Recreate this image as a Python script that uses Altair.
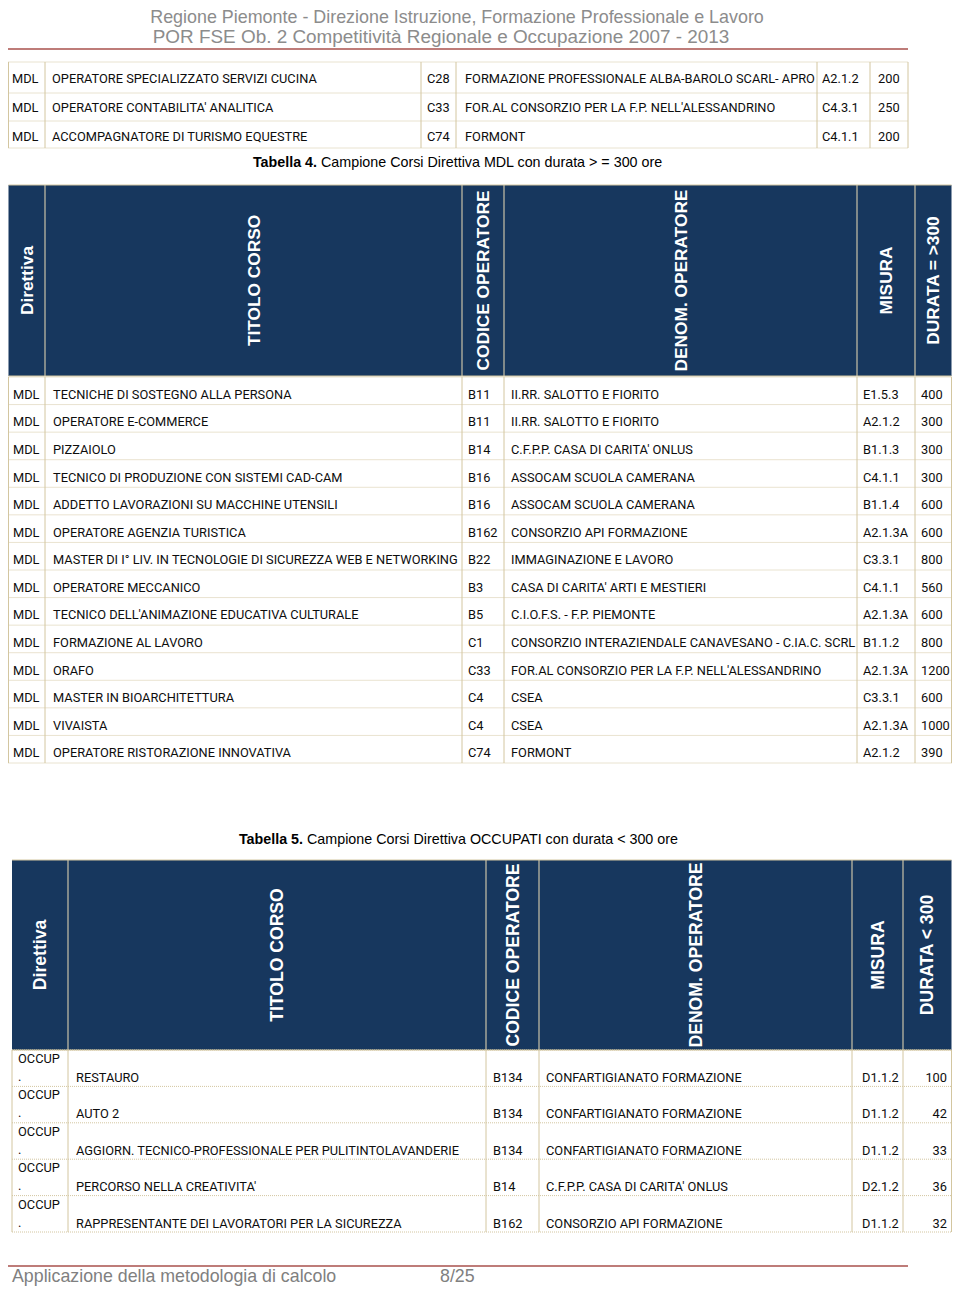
import altair as alt
import pandas as pd

# ---------------- data ----------------
page_header = ["Regione Piemonte - Direzione Istruzione, Formazione Professionale e Lavoro",
               "POR FSE Ob. 2 Competitività Regionale e Occupazione 2007 - 2013"]
footer_left = "Applicazione della metodologia di calcolo"
footer_page = "8/25"

# continuation of previous table
top_dir = ["MDL", "MDL", "MDL"]
top_titolo = ["OPERATORE SPECIALIZZATO SERVIZI CUCINA",
              "OPERATORE CONTABILITA' ANALITICA",
              "ACCOMPAGNATORE DI TURISMO EQUESTRE"]
top_codice = ["C28", "C33", "C74"]
top_denom = ["FORMAZIONE PROFESSIONALE ALBA-BAROLO SCARL- APRO",
             "FOR.AL CONSORZIO PER LA F.P. NELL'ALESSANDRINO",
             "FORMONT"]
top_misura = ["A2.1.2", "C4.3.1", "C4.1.1"]
top_durata = [200, 250, 200]

# Tabella 4
t4_caption = ("Tabella 4.", "Campione Corsi Direttiva MDL con durata > = 300 ore")
t4_headers = ["Direttiva", "TITOLO CORSO", "CODICE OPERATORE", "DENOM. OPERATORE", "MISURA", "DURATA = >300"]
t4_dir = ["MDL"] * 14
t4_titolo = ["TECNICHE DI SOSTEGNO ALLA PERSONA",
             "OPERATORE E-COMMERCE",
             "PIZZAIOLO",
             "TECNICO DI PRODUZIONE CON SISTEMI CAD-CAM",
             "ADDETTO LAVORAZIONI SU MACCHINE UTENSILI",
             "OPERATORE AGENZIA TURISTICA",
             "MASTER DI I° LIV. IN TECNOLOGIE DI SICUREZZA WEB E NETWORKING",
             "OPERATORE MECCANICO",
             "TECNICO DELL'ANIMAZIONE EDUCATIVA CULTURALE",
             "FORMAZIONE AL LAVORO",
             "ORAFO",
             "MASTER IN BIOARCHITETTURA",
             "VIVAISTA",
             "OPERATORE RISTORAZIONE INNOVATIVA"]
t4_codice = ["B11", "B11", "B14", "B16", "B16", "B162", "B22", "B3", "B5", "C1", "C33", "C4", "C4", "C74"]
t4_denom = ["II.RR. SALOTTO E FIORITO",
            "II.RR. SALOTTO E FIORITO",
            "C.F.P.P. CASA DI CARITA' ONLUS",
            "ASSOCAM SCUOLA CAMERANA",
            "ASSOCAM SCUOLA CAMERANA",
            "CONSORZIO API FORMAZIONE",
            "IMMAGINAZIONE E LAVORO",
            "CASA DI CARITA' ARTI E MESTIERI",
            "C.I.O.F.S. - F.P. PIEMONTE",
            "CONSORZIO INTERAZIENDALE CANAVESANO - C.IA.C. SCRL",
            "FOR.AL CONSORZIO PER LA F.P. NELL'ALESSANDRINO",
            "CSEA",
            "CSEA",
            "FORMONT"]
t4_misura = ["E1.5.3", "A2.1.2", "B1.1.3", "C4.1.1", "B1.1.4", "A2.1.3A", "C3.3.1",
             "C4.1.1", "A2.1.3A", "B1.1.2", "A2.1.3A", "C3.3.1", "A2.1.3A", "A2.1.2"]
t4_durata = [400, 300, 300, 300, 600, 600, 800, 560, 600, 800, 1200, 600, 1000, 390]

# Tabella 5
t5_caption = ("Tabella 5.", "Campione Corsi Direttiva OCCUPATI con durata < 300 ore")
t5_headers = ["Direttiva", "TITOLO CORSO", "CODICE OPERATORE", "DENOM. OPERATORE", "MISURA", "DURATA < 300"]
t5_dir = ["OCCUP."] * 5
t5_titolo = ["RESTAURO",
             "AUTO 2",
             "AGGIORN. TECNICO-PROFESSIONALE PER PULITINTOLAVANDERIE",
             "PERCORSO NELLA CREATIVITA'",
             "RAPPRESENTANTE DEI LAVORATORI PER LA SICUREZZA"]
t5_codice = ["B134", "B134", "B134", "B14", "B162"]
t5_denom = ["CONFARTIGIANATO FORMAZIONE",
            "CONFARTIGIANATO FORMAZIONE",
            "CONFARTIGIANATO FORMAZIONE",
            "C.F.P.P. CASA DI CARITA' ONLUS",
            "CONSORZIO API FORMAZIONE"]
t5_misura = ["D1.1.2", "D1.1.2", "D1.1.2", "D2.1.2", "D1.1.2"]
t5_durata = [100, 42, 33, 36, 32]

# ---------------- layout (page pixels) ----------------
W, H = 944, 1279
NAVY = "#17375E"
GRID = "#D3C6A0"
HDIV = "#C9C2A8"
RED = "#A9504C"
INK = "#0d0d0d"
BODY_FONT = "Roboto"
BODY_SIZE = 12.8
HEAD_FONT = "Liberation Sans"

xs = alt.Scale(domain=[8, 8 + W], range=[0, W], nice=False, zero=False)
ys = alt.Scale(domain=[8, 8 + H], reverse=True, nice=False, zero=False)
X = alt.X("x:Q", scale=xs, axis=None)
Y = alt.Y("y:Q", scale=ys, axis=None)

top_cols = [8.5, 45, 421, 456, 817, 870, 908]
top_tx = [12, 52, 427, 465, 822, 878]
top_rows = [62, 93, 121, 148]

t4_cols = [8.5, 45, 462, 504, 857, 915, 951.5]
t4_tx = [13, 53, 468, 511, 863, 921]
t4_head = (185, 376)
t4_body = (377, 763)

t5_cols = [12, 68, 486, 539, 852, 903, 951.5]
t5_tx = [18, 76, 493, 546, 862]
t5_dur_right = 947
t5_head = (860, 1050)
t5_body = (1050, 1232)

layers = []


def text_layer(rows, size, color=INK, weight="normal", font=BODY_FONT,
               align="left", angle=0, baseline="middle"):
    df = pd.DataFrame(rows)
    return alt.Chart(df).mark_text(
        fontSize=size, color=color, fontWeight=weight, font=font,
        align=align, baseline=baseline, angle=angle
    ).encode(x=X, y=Y, text="t:N")


def rule_layer(rows, color, width=1.0, dash=None):
    df = pd.DataFrame(rows)
    kw = dict(color=color, strokeWidth=width)
    if dash:
        kw["strokeDash"] = dash
    return alt.Chart(df).mark_rule(**kw).encode(
        x=X, y=Y, x2="x2:Q", y2="y2:Q")


def rect_layer(rows, fill):
    df = pd.DataFrame(rows)
    return alt.Chart(df).mark_rect(color=fill).encode(x=X, y=Y, x2="x2:Q", y2="y2:Q")


def grid(cols, top, bottom, row_edges):
    h = [{"x": cols[0], "x2": cols[-1], "y": r, "y2": r} for r in row_edges]
    v = [{"x": c, "x2": c, "y": top, "y2": bottom} for c in cols]
    return [rule_layer(h, GRID, 1, [1, 1]), rule_layer(v, GRID, 1)]


def body_cells(columns, tx, top, bottom, dy):
    n = len(columns[0])
    rh = (bottom - top) / n
    out = []
    for col, x in zip(columns, tx):
        for i, v in enumerate(col):
            out.append({"x": x, "y": top + (i + 0.5) * rh + dy, "t": str(v)})
    return out


def header_block(cols, top, bottom, labels, size):
    blocks = [rect_layer([{"x": cols[0], "x2": cols[-1], "y": top, "y2": bottom}], NAVY)]
    blocks.append(rule_layer([{"x": c, "x2": c, "y": top, "y2": bottom} for c in cols[1:-1]], HDIV, 1.2))
    blocks.append(rule_layer([{"x": cols[0], "x2": cols[-1], "y": top, "y2": top},
                              {"x": cols[0], "x2": cols[-1], "y": bottom, "y2": bottom}], GRID, 1))
    yc = (top + bottom) / 2
    lab = [{"x": (cols[i] + cols[i + 1]) / 2 + 1, "y": yc, "t": labels[i]} for i in range(len(labels))]
    blocks.append(text_layer(lab, size, color="white", weight="bold", font=HEAD_FONT,
                             align="center", angle=270))
    return blocks


# page header
layers.append(text_layer([{"x": 457, "y": 18, "t": page_header[0]}],
                         17.9, color="#8C8C8C", font=HEAD_FONT, align="center"))
layers.append(text_layer([{"x": 441, "y": 37, "t": page_header[1]}],
                         18.9, color="#8C8C8C", font=HEAD_FONT, align="center"))
layers.append(rule_layer([{"x": 8, "x2": 908, "y": 49, "y2": 49}], RED, 1.5))

# top continuation table
layers += grid(top_cols, top_rows[0], top_rows[-1], top_rows)
layers.append(text_layer(body_cells([top_dir, top_titolo, top_codice, top_denom, top_misura, top_durata],
                                    top_tx, top_rows[0], top_rows[-1], 3), BODY_SIZE))

# Tabella 4
layers.append(text_layer([{"x": 317, "y": 163, "t": t4_caption[0]}], 14.3, color="#000000",
                         weight="bold", font=HEAD_FONT, align="right"))
layers.append(text_layer([{"x": 321, "y": 163, "t": t4_caption[1]}], 14.3, color="#000000",
                         font=HEAD_FONT))
layers += header_block(t4_cols, t4_head[0], t4_head[1], t4_headers, 17.3)
n4 = len(t4_dir)
rh4 = (t4_body[1] - t4_body[0]) / n4
layers += grid(t4_cols, t4_body[0], t4_body[1], [t4_body[0] + i * rh4 for i in range(n4 + 1)])
layers.append(text_layer(body_cells([t4_dir, t4_titolo, t4_codice, t4_denom, t4_misura, t4_durata],
                                    t4_tx, t4_body[0], t4_body[1], 4), BODY_SIZE))

# Tabella 5
layers.append(text_layer([{"x": 303, "y": 840, "t": t5_caption[0]}], 14.3, color="#000000",
                         weight="bold", font=HEAD_FONT, align="right"))
layers.append(text_layer([{"x": 307, "y": 840, "t": t5_caption[1]}], 14.3, color="#000000",
                         font=HEAD_FONT))
layers += header_block(t5_cols, t5_head[0], t5_head[1], t5_headers, 17.6)
n5 = len(t5_dir)
rh5 = (t5_body[1] - t5_body[0]) / n5
layers += grid(t5_cols, t5_body[0], t5_body[1], [t5_body[0] + i * rh5 for i in range(n5 + 1)])
occ_top = [{"x": t5_tx[0], "y": t5_body[0] + i * rh5 + 9, "t": d.rstrip(".")} for i, d in enumerate(t5_dir)]
occ_dot = [{"x": t5_tx[0], "y": t5_body[0] + i * rh5 + 27, "t": "."} for i, d in enumerate(t5_dir)]
layers.append(text_layer(occ_top + occ_dot, BODY_SIZE))
t5_rows = []
for col, x in zip([t5_titolo, t5_codice, t5_denom, t5_misura], t5_tx[1:]):
    for i, v in enumerate(col):
        t5_rows.append({"x": x, "y": t5_body[0] + i * rh5 + 28, "t": str(v)})
layers.append(text_layer(t5_rows, BODY_SIZE))
layers.append(text_layer([{"x": t5_dur_right, "y": t5_body[0] + i * rh5 + 28, "t": str(v)}
                          for i, v in enumerate(t5_durata)], BODY_SIZE, align="right"))

# footer
layers.append(rule_layer([{"x": 8, "x2": 908, "y": 1266, "y2": 1266}], RED, 1.5))
layers.append(text_layer([{"x": 12, "y": 1277, "t": footer_left},
                          {"x": 440, "y": 1277, "t": footer_page}], 17.8, color="#808080",
                         font=HEAD_FONT))

chart = alt.layer(*layers).properties(
    width=W, height=H, padding=0, autosize="none", background="white"
).configure_view(stroke=None)

chart.save("out.html", embed_options={"renderer": "svg", "actions": False})
